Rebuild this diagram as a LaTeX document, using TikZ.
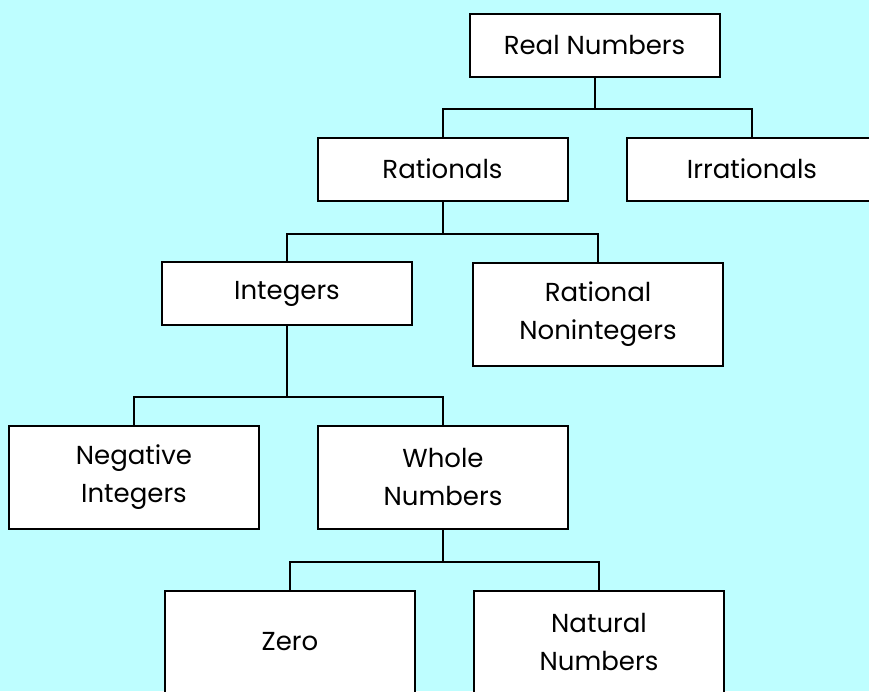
\documentclass[tikz,border=0pt]{standalone}
\usepackage{fontspec}
\setmainfont{Poppins}

\definecolor{fondo}{RGB}{190,254,255}

\tikzset{
  caja/.style={draw, fill=white, line width=2pt, minimum width=250pt,
    align=center, inner sep=0pt, font=\fontsize{26}{38}\selectfont},
  baja/.style={caja, minimum height=63pt},
  alta/.style={caja, minimum height=103pt},
  rama/.style={line width=2pt}
}

\begin{document}
\begin{tikzpicture}[x=1pt, y=-1pt]

  % Fondo y marco de la figura
  \useasboundingbox (0,0) rectangle (869,691);
  \fill[fondo] (0,0) rectangle (869,691);

  % Cajas (centros medidos sobre la figura)
  \node[baja] (real)  at (594.5, 45)  {Real Numbers};
  \node[baja] (rat)   at (442.5, 169) {Rationals};
  \node[baja] (irr)   at (752, 169)   {Irrationals};
  \node[baja] (ent)   at (287, 293.5) {Integers};
  \node[alta] (rni)   at (598, 314)   {Rational\\Nonintegers};
  \node[alta] (neg)   at (134, 477)   {Negative\\Integers};
  \node[alta] (whole) at (443, 477)   {Whole\\Numbers};
  \node[alta] (zero)  at (290, 642)   {Zero};
  \node[alta] (nat)   at (599, 642)   {Natural\\Numbers};

  % Ramas del arbol
  \draw[rama] (real.south) -- ++(0,31) -| (rat.north);
  \draw[rama] (real.south) -- ++(0,31) -| (irr.north);
  \draw[rama] (rat.south) -- ++(0,32) -| (ent.north);
  \draw[rama] (rat.south) -- ++(0,32) -| (rni.north);
  \draw[rama] (ent.south) -- ++(0,71) -| (neg.north);
  \draw[rama] (ent.south) -- ++(0,71) -| (whole.north);
  \draw[rama] (whole.south) -- ++(0,32) -| (zero.north);
  \draw[rama] (whole.south) -- ++(0,32) -| (nat.north);

\end{tikzpicture}
\end{document}
